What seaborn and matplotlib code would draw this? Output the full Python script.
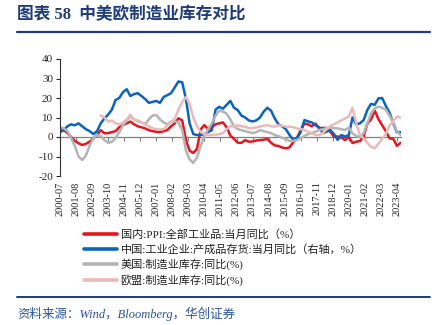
import numpy as np
import pandas as pd
import matplotlib
matplotlib.use("Agg")
import matplotlib.pyplot as plt
from matplotlib.lines import Line2D
import seaborn as sns

# ---------------- data (quarterly samples) ----------------
start_month = "2000-07-01"
n_points = 93
tick_start = "2000-07-01"
n_ticks = 22

ppi_cn = [4.5, 3.6, 2.0, 0.0, -2.0, -3.2, -4.1, -3.5, -2.4, -0.7,
          1.0, 3.5, 1.9, 2.0, 2.5, 3.0, 5.0, 6.1, 7.0, 7.9,
          6.5, 5.5, 5.0, 4.4, 3.5, 3.0, 2.7, 2.5, 3.0, 3.6,
          5.5, 7.0, 9.6, 8.5, -1.5, -7.0, -8.2, -6.0, 4.0, 6.1,
          4.0, 5.0, 6.5, 7.0, 7.5, 5.0, 0.7, -1.0, -2.9, -3.0,
          -1.6, -2.4, -2.3, -1.8, -1.6, -1.4, -1.0, -3.0, -4.3, -4.6,
          -5.4, -5.8, -5.3, -2.6, -0.5, 3.5, 6.9, 6.5, 5.5, 6.9,
          4.3, 4.7, 4.6, 2.7, 0.1, 0.3, -0.3, -1.6, 0.1, -3.1,
          -2.4, -2.1, 0.3, 6.8, 9.0, 13.5, 9.1, 6.1, 3.0, -0.7,
          -1.0, -4.5, -3.0]

inv_cn = [2.5, 3.5, 5.5, 6.5, 6.0, 7.0, 5.5, 4.0, 3.0, 1.5,
          3.0, 7.0, 9.5, 11.5, 14.0, 19.0, 20.0, 23.0, 24.5, 21.0,
          22.0, 22.5, 21.0, 19.5, 17.5, 18.0, 18.5, 17.5, 20.5, 21.5,
          22.5, 25.5, 28.5, 28.0, 19.5, 7.0, 1.5, 1.0, 1.0, 1.5,
          2.5, 3.5, 14.0, 15.5, 14.5, 16.5, 18.5, 15.0, 13.8, 11.0,
          10.0, 8.5, 8.0, 8.5, 10.0, 13.0, 15.0, 13.5, 9.5, 6.5,
          5.5, 4.0, 1.0, -1.5, -0.5, 2.5, 8.7, 8.0, 7.5, 6.0,
          5.0, 2.0, 2.7, 3.6, 1.5, -1.5, 1.0, 0.2, 1.0, 10.0,
          6.5, 7.0, 8.7, 13.8, 17.0, 16.5, 19.8, 20.0, 16.0, 12.5,
          7.0, 2.5, 2.5]

inv_us = [5.0, 4.5, 3.0, -0.5, -4.5, -10.0, -11.8, -9.5, -4.5, -0.5,
          1.0, 0.5, -1.5, -3.0, -2.5, -0.5, 2.5, 6.0, 8.5, 10.5,
          9.0, 8.0, 7.5, 6.5, 9.0, 11.0, 11.3, 9.0, 7.5, 6.5,
          7.9, 8.0, 7.5, 3.5, -7.0, -11.5, -13.3, -10.5, -4.5, 0.5,
          4.0, 7.0, 11.0, 13.5, 13.0, 12.0, 9.0, 5.5, 4.0, 3.5,
          3.0, 2.5, 2.0, 2.5, 3.5, 3.0, 2.5, 2.0, 1.0, 0.5,
          -0.5, -1.0, -2.0, -2.0, -1.5, -0.5, 0.5, 1.5, 2.0, 2.7,
          3.6, 4.0, 4.6, 4.8, 4.5, 4.4, 4.0, 3.6, 4.8, 1.9,
          0.5, 0.2, 2.0, 7.0, 12.0, 14.7, 15.5, 15.0, 14.0, 11.0,
          7.5, 3.0, 1.0]

inv_eu = [np.nan] * 11 + [
          11.0, 10.0, 8.0, 8.5, 7.0, 6.5, 7.5, 9.0, 11.5, 9.0,
          8.5, 7.5, 6.5, 5.5, 4.5, 4.0, 3.8, 4.0, 6.0, 7.5,
          9.5, 14.0, 18.0, 20.5, 17.0, 10.0, 5.5, 2.5, 1.5, 1.0,
          1.0, 1.2, 1.5, 2.0, 4.0, 5.5, 5.5, 6.0, 5.5, 5.3,
          4.5, 4.5, 5.0, 5.3, 5.8, 6.1, 5.5, 5.3, 6.0, 5.8,
          5.3, 5.3, 5.0, 4.4, 4.0, 3.6, 2.7, 2.0, 1.0, 1.0,
          2.0, 4.0, 5.5, 6.5, 7.5, 8.5, 9.5, 10.4, 15.0, 7.0,
          1.0, -0.7, -3.0, -5.0, -5.8, -3.5, -0.8, 1.5, 6.0, 8.0,
          10.5, 10.0]

series_names = ["国内:PPI:全部工业品:当月同比（%）",
                "中国:工业企业:产成品存货:当月同比（右轴，%）",
                "美国:制造业库存:同比(%)",
                "欧盟:制造业库存:同比(%)"]
series_colors = ["#E8141E", "#0A64BE", "#B4B4B4", "#EBB9B9"]
y_ticks = [-20, -10, 0, 10, 20, 30, 40]

# ---------------- build table ----------------
dates = pd.date_range(start_month, periods=n_points, freq="3MS")
frames = []
for name, vals in zip(series_names, [ppi_cn, inv_cn, inv_us, inv_eu]):
    frames.append(pd.DataFrame({"date": dates, "value": vals, "series": name}))
df = pd.concat(frames, ignore_index=True).dropna()

# ---------------- style ----------------
sns.set_style("white")
plt.rcParams["font.family"] = ["Liberation Serif", "Noto Sans CJK SC", "DejaVu Sans"]
plt.rcParams["axes.unicode_minus"] = False

W, H = 441, 325
fig = plt.figure(figsize=(W / 100, H / 100), dpi=100)
fig.patch.set_facecolor("white")

ax_l, ax_r, ax_t, ax_b = 60, 400.6, 59, 176
ax = fig.add_axes([ax_l / W, 1 - ax_b / H, (ax_r - ax_l) / W, (ax_b - ax_t) / H])

sns.lineplot(data=df, x="date", y="value", hue="series",
             hue_order=series_names, palette=series_colors,
             linewidth=1.8, ax=ax, legend=True)

ax.set_xlim(dates[0], dates[-1])
ax.set_ylim(-20, 40)
ax.set_yticks(y_ticks)
ax.set_yticklabels([str(v) for v in y_ticks], fontsize=8)
ax.set_xlabel("")
ax.set_ylabel("")

ticks = pd.date_range(tick_start, periods=n_ticks, freq="13MS")
ax.set_xticks(ticks)
ax.set_xticklabels([t.strftime("%Y-%m") for t in ticks], rotation=90, fontsize=7.5)
ax.tick_params(axis="x", length=0, pad=4)
ax.tick_params(axis="y", length=3, width=0.8, direction="out", pad=2, left=True)

for s in ["top", "right", "bottom"]:
    ax.spines[s].set_visible(False)
ax.spines["left"].set_color("#333333")
ax.spines["left"].set_linewidth(0.8)

# zero line acting as the x axis, with tick marks
sec = ax.secondary_xaxis(1 / 3)
sec.set_xticks(ticks)
sec.set_xticklabels([])
sec.tick_params(axis="x", length=3, width=0.8, direction="out", color="#808080")
sec.spines["bottom"].set_color("#808080")
sec.spines["bottom"].set_linewidth(0.9)
for s in ["top", "left", "right"]:
    if s in sec.spines:
        sec.spines[s].set_visible(False)

# legend
handles, labels = ax.get_legend_handles_labels()
ax.get_legend().remove()
leg = fig.legend(handles, labels, loc="upper left",
                 bbox_to_anchor=(84 / W, 1 - 229 / H), frameon=False,
                 fontsize=8, handlelength=3.0, handletextpad=0.3,
                 labelspacing=0.35, borderpad=0, borderaxespad=0,
                 prop={"family": ["Liberation Serif", "Noto Sans CJK SC"], "size": 8})
for h in leg.legend_handles:
    h.set_linewidth(2.6)
for t in leg.get_texts():
    t.set_color("#222222")

# title and header/footer rules
title_color = "#1F3C78"
fig.text(17 / W, 1 - 15 / H, "图表 58  中美欧制造业库存对比", ha="left", va="center",
         fontsize=12, fontweight="bold", color=title_color,
         family=["Liberation Serif", "Noto Sans CJK SC"])
fig.add_artist(Line2D([17 / W, 430 / W], [1 - 32 / H] * 2, transform=fig.transFigure,
                      color=title_color, linewidth=1.6))
fig.add_artist(Line2D([17 / W, 430 / W], [1 - 297 / H] * 2, transform=fig.transFigure,
                      color=title_color, linewidth=1.4))
fig.text(17 / W, 1 - 314 / H, "资料来源：Wind，Bloomberg，华创证券", ha="left", va="center",
         fontsize=9, style="italic", color="#2A55A0",
         family=["Liberation Serif", "Noto Sans CJK SC"])

fig.savefig("out.png", dpi=100, facecolor="white")
